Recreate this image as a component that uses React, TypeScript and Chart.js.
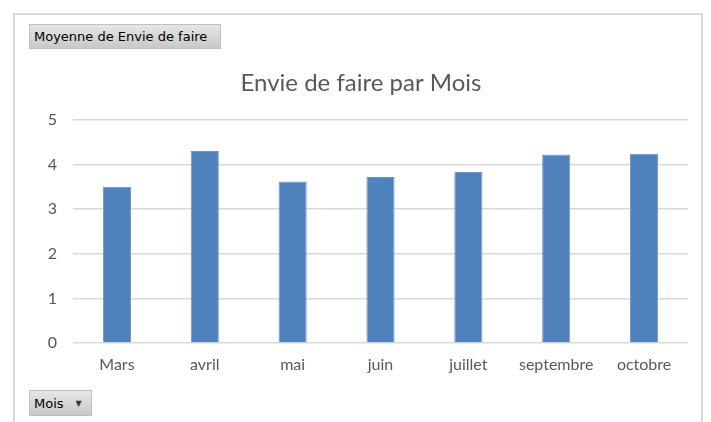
import React, { useEffect, useRef } from "react";
import { Chart, registerables } from "chart.js";

Chart.register(...registerables);

const categories = ["Mars", "avril", "mai", "juin", "juillet", "septembre", "octobre"];
const envieValues = [3.5, 4.3, 3.62, 3.72, 3.83, 4.22, 4.24];
const yTicks = [0, 1, 2, 3, 4, 5];
const chartTitle = "Envie de faire par Mois";
const valueButtonLabel = "Moyenne de Envie de faire";
const axisButtonLabel = "Mois";

const FONT = "Lato, 'Open Sans', sans-serif";

export default function App() {
  const canvasRef = useRef<HTMLCanvasElement | null>(null);

  useEffect(() => {
    document.body.style.margin = "0";
    const ctx = canvasRef.current!;
    const chart = new Chart(ctx, {
      type: "bar",
      data: {
        labels: categories,
        datasets: [
          {
            label: valueButtonLabel,
            data: envieValues,
            backgroundColor: "#4f81bd",
            borderColor: "#6d97cc",
            borderWidth: { left: 1, right: 1, top: 1, bottom: 0 },
            categoryPercentage: 1,
            barPercentage: 0.32,
          },
        ],
      },
      options: {
        animation: false,
        responsive: false,
        maintainAspectRatio: false,
        layout: { padding: { left: 34, right: 23, top: 0, bottom: 0 } },
        plugins: {
          legend: { display: false },
          tooltip: { enabled: false },
          title: {
            display: true,
            text: chartTitle,
            color: "#595959",
            font: { family: FONT, size: 24, weight: "normal" },
            padding: { top: 69, bottom: 22 },
          },
        },
        scales: {
          x: {
            grid: { display: false, drawTicks: false },
            border: { display: false },
            ticks: {
              color: "#595959",
              font: { family: FONT, size: 16 },
              padding: 12,
              maxRotation: 0,
              autoSkip: false,
            },
            afterFit: (s: any) => {
              s.height = 79;
            },
          },
          y: {
            min: 0,
            max: 5,
            afterBuildTicks: (s: any) => {
              s.ticks = yTicks.map((v) => ({ value: v }));
            },
            grid: { color: "#d9d9d9", lineWidth: 1.5, drawTicks: false },
            border: { display: false },
            ticks: {
              color: "#595959",
              font: { family: FONT, size: 16 },
              padding: 16,
            },
            afterFit: (s: any) => {
              s.width = 39;
            },
          },
        },
      },
    });
    return () => chart.destroy();
  }, []);

  const btn: React.CSSProperties = {
    position: "absolute",
    background: "linear-gradient(#e6e6e6, #c8c8c8)",
    border: "1px solid #c0c0c0",
    boxSizing: "border-box",
    fontFamily: "'DejaVu Sans', Verdana, sans-serif",
    fontSize: 13,
    color: "#000",
    display: "flex",
    alignItems: "center",
    paddingLeft: 4,
  };

  return (
    <div style={{ position: "fixed", left: 0, top: 0, width: 711, height: 422, background: "#fff", overflow: "hidden" }}>
      <div
        style={{
          position: "absolute",
          left: 13,
          top: 13,
          width: 690,
          height: 430,
          border: "2px solid #d9d9d9",
          boxSizing: "border-box",
        }}
      />
      <canvas ref={canvasRef} width={711} height={422} style={{ position: "absolute", left: 0, top: 0 }} />
      <div style={{ ...btn, left: 29, top: 24, width: 192, height: 25 }}>{valueButtonLabel}</div>
      <div style={{ ...btn, left: 29, top: 390, width: 63, height: 26 }}>
        <span>{axisButtonLabel}</span>
        <span style={{ fontSize: 8, marginLeft: 12, color: "#333" }}>▼</span>
      </div>
    </div>
  );
}
